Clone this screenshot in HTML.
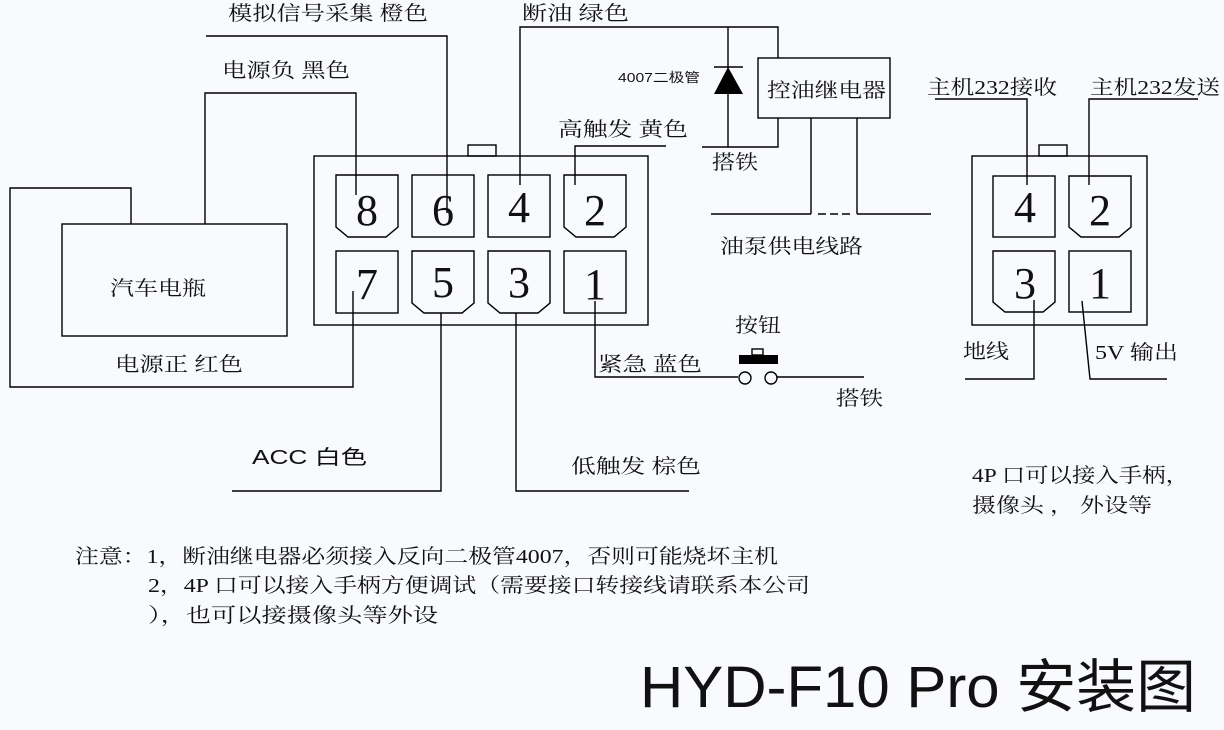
<!DOCTYPE html>
<html><head><meta charset="utf-8"><style>
html,body{margin:0;padding:0;background:#f8fafd;}
svg{display:block}
text{font-family:"Liberation Serif","Noto Serif CJK SC","Noto Sans CJK SC",serif;fill:#111;}
.s{font-family:"Liberation Sans","Noto Sans CJK SC",sans-serif;}
.n{font-family:"Liberation Serif",serif;font-size:44px;text-anchor:middle;}
</style></head><body>
<svg width="1224" height="730" viewBox="0 0 1224 730" xmlns="http://www.w3.org/2000/svg">
<rect width="1224" height="730" fill="#f8fafd"/>
<g fill="none" stroke="#000" stroke-width="1.4">
<!-- left connector -->
<rect x="314" y="156" width="334" height="169"/>
<rect x="468" y="145" width="28" height="11"/>
<path d="M336 175H398V227L386 237H348L336 227Z"/>
<rect x="412" y="175" width="62" height="62"/>
<rect x="488" y="175" width="62" height="62"/>
<path d="M564 175H626V227L614 237H576L564 227Z"/>
<rect x="336" y="251" width="62" height="62"/>
<path d="M412 251H474V303L462 313H424L412 303Z"/>
<path d="M488 251H550V303L538 313H500L488 303Z"/>
<rect x="564" y="251" width="62" height="62"/>
<!-- wires left -->
<path d="M206 36H447V213"/>
<path d="M205 224V93H356V195"/>
<path d="M131 224V188H10V387H353V291"/>
<rect x="62" y="224" width="225" height="112"/>
<path d="M232 491H441V313"/>
<path d="M516 313V491H689"/>
<path d="M595 301V377H738"/>
<path d="M777 377H864"/>
<path d="M575 185V146H666"/>
<path d="M520 185V27H778V58"/>
<path d="M728 27V147"/>
<path d="M778 118V147H702"/>
<rect x="758" y="58" width="132" height="60"/>
<path d="M811 118V214M857 118V214"/>
<path d="M711 214H811M857 214H931"/>
<path d="M818 214H853" stroke-dasharray="8 4"/>
<path d="M714 67H743"/>
<!-- right connector -->
<rect x="972" y="156" width="175" height="169"/>
<rect x="1039" y="145" width="28" height="11"/>
<rect x="993" y="176" width="62" height="61"/>
<path d="M1069 176H1131V227L1119 237H1081L1069 227Z"/>
<path d="M993 251H1055V302L1043 312H1005L993 302Z"/>
<rect x="1069" y="251" width="62" height="61"/>
<path d="M935 99H1027V185"/>
<path d="M1198 99H1089V185"/>
<path d="M1034 300V379H965"/>
<path d="M1082 301L1090 379H1167"/>
<circle cx="745" cy="378" r="6"/>
<circle cx="771" cy="378" r="6"/>
<rect x="752" y="349" width="11" height="6"/>
</g>
<polygon points="728,67 714,94 743,94" fill="#000"/>
<rect x="739" y="355" width="39" height="9" fill="#000"/>
<!-- pin numbers -->
<text class="n" x="367" y="225">8</text>
<text class="n" x="443" y="225">6</text>
<text class="n" x="519" y="222">4</text>
<text class="n" x="595" y="225">2</text>
<text class="n" x="367" y="299">7</text>
<text class="n" x="443" y="297">5</text>
<text class="n" x="519" y="297">3</text>
<text class="n" x="595" y="299">1</text>
<text class="n" x="1025" y="222">4</text>
<text class="n" x="1100" y="225">2</text>
<text class="n" x="1025" y="298">3</text>
<text class="n" x="1100" y="298">1</text>
<!-- labels -->
<g font-size="20">
<text x="228" y="20" textLength="200" lengthAdjust="spacingAndGlyphs">模拟信号采集 橙色</text>
<text x="522" y="20" textLength="107" lengthAdjust="spacingAndGlyphs">断油 绿色</text>
<text x="222" y="77" textLength="128" lengthAdjust="spacingAndGlyphs">电源负 黑色</text>
<text x="558" y="136" textLength="130" lengthAdjust="spacingAndGlyphs">高触发 黄色</text>
<text x="767" y="97" textLength="119" lengthAdjust="spacingAndGlyphs">控油继电器</text>
<text x="712" y="169" textLength="46" lengthAdjust="spacingAndGlyphs">搭铁</text>
<text x="720" y="253" textLength="143" lengthAdjust="spacingAndGlyphs">油泵供电线路</text>
<text x="927" y="94" textLength="130" lengthAdjust="spacingAndGlyphs">主机232接收</text>
<text x="1090" y="94" textLength="130" lengthAdjust="spacingAndGlyphs">主机232发送</text>
<text x="110" y="295" textLength="96" lengthAdjust="spacingAndGlyphs">汽车电瓶</text>
<text x="115" y="371" textLength="128" lengthAdjust="spacingAndGlyphs">电源正 红色</text>
<text x="598" y="371" textLength="104" lengthAdjust="spacingAndGlyphs">紧急 蓝色</text>
<text x="735" y="332" textLength="46" lengthAdjust="spacingAndGlyphs">按钮</text>
<text x="836" y="405" textLength="47" lengthAdjust="spacingAndGlyphs">搭铁</text>
<text x="963" y="358" textLength="46" lengthAdjust="spacingAndGlyphs">地线</text>
<text x="1095" y="359" textLength="83" lengthAdjust="spacingAndGlyphs">5V 输出</text>
<text class="s" x="252" y="464" textLength="115" lengthAdjust="spacingAndGlyphs">ACC  白色</text>
<text x="571" y="473" textLength="130" lengthAdjust="spacingAndGlyphs">低触发 棕色</text>
<text x="972" y="482" textLength="217" lengthAdjust="spacingAndGlyphs">4P 口可以接入手柄，</text>
<text x="972" y="512" textLength="180" lengthAdjust="spacingAndGlyphs">摄像头 ， 外设等</text>
<text x="75" y="563" textLength="703" lengthAdjust="spacingAndGlyphs">注意：1，断油继电器必须接入反向二极管4007，否则可能烧坏主机</text>
<text x="148" y="592" textLength="662" lengthAdjust="spacingAndGlyphs">2，4P 口可以接入手柄方便调试（需要接口转接线请联系本公司</text>
<text x="148" y="622" textLength="290" lengthAdjust="spacingAndGlyphs">），也可以接摄像头等外设</text>
</g>
<text class="s" x="618" y="82" font-size="13" textLength="82" lengthAdjust="spacingAndGlyphs">4007二极管</text>
<text class="s" x="640" y="707" font-size="58" textLength="556" lengthAdjust="spacingAndGlyphs">HYD-F10 Pro 安装图</text>
</svg>
</body></html>
